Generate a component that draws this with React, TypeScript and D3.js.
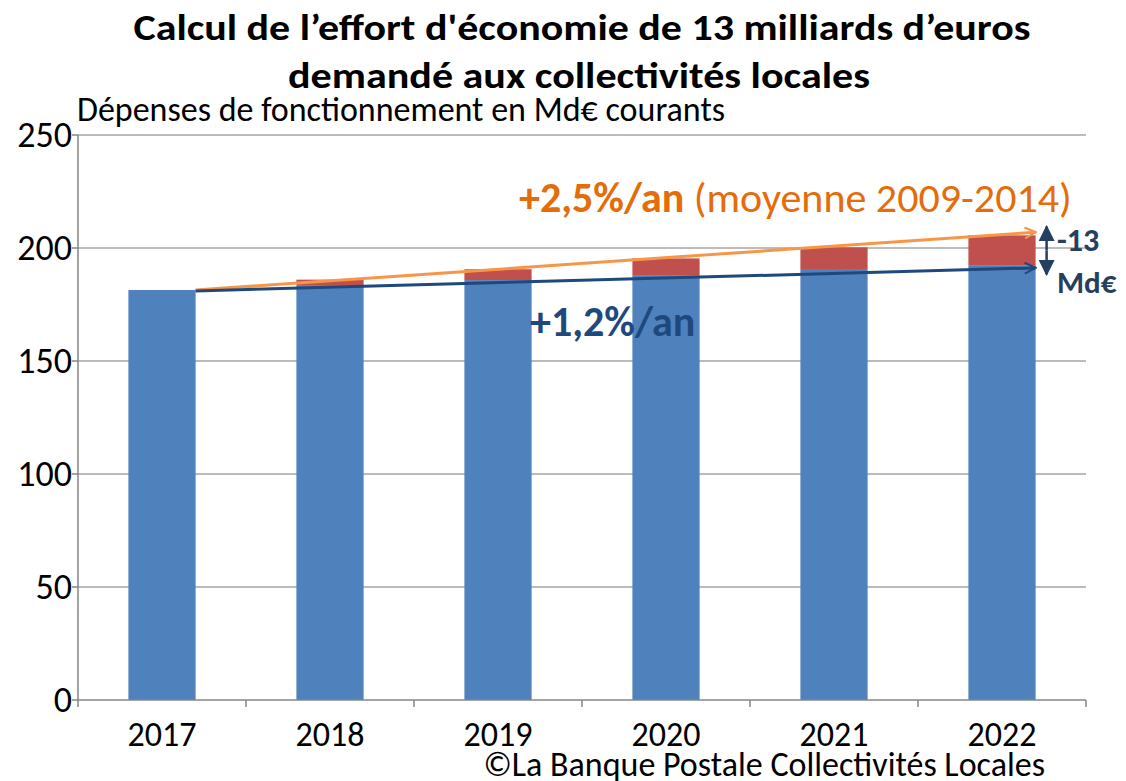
import * as d3 from 'd3';
import React from 'react';

// values (Md€)
const years = ['2017', '2018', '2019', '2020', '2021', '2022'];
const baseValues = [181.4, 183.6, 185.8, 188.0, 190.3, 192.4];
const extraValues = [0, 2.4, 4.8, 7.4, 10.0, 13.2];
const yTicks = [0, 50, 100, 150, 200, 250];
const trend25 = [181.4, 207.0];
const trend12 = [181.0, 191.2];
const gapArrow = [209.5, 188.3];

const W = 1126;
const H = 781;
const FONT = "Carlito, 'Open Sans', sans-serif";

export default function App() {
  const x = d3.scaleBand().domain(years).range([78, 1086]).paddingInner(0.6).paddingOuter(0.3);
  const y = d3.scaleLinear().domain([0, 250]).range([700, 135]);
  const bw = x.bandwidth();
  const step = x.step();
  const x0 = x(years[0]) + bw;
  const x1 = x(years[years.length - 1]) + bw;
  const arrowX = x1 + 11;

  return (
    <svg
      width={W}
      height={H}
      style={{ position: 'absolute', left: 0, top: 0, background: '#fff', fontFamily: FONT }}
    >
      <defs>
        <marker id="openO" viewBox="0 0 12 12" refX="11" refY="6" markerWidth="13" markerHeight="13" markerUnits="userSpaceOnUse" orient="auto">
          <path d="M1,1 L11,6 L1,11" fill="none" stroke="#f79646" strokeWidth="2" />
        </marker>
        <marker id="openB" viewBox="0 0 12 12" refX="11" refY="6" markerWidth="13" markerHeight="13" markerUnits="userSpaceOnUse" orient="auto">
          <path d="M1,1 L11,6 L1,11" fill="none" stroke="#1f497d" strokeWidth="2" />
        </marker>
        <marker id="solid" viewBox="0 0 10 10" refX="9" refY="5" markerWidth="16" markerHeight="16" markerUnits="userSpaceOnUse" orient="auto">
          <path d="M0,0 L10,5 L0,10 Z" fill="#243f60" />
        </marker>
      </defs>

      {/* title */}
      <text x={582} y={40} textAnchor="middle" fontSize={37} fontWeight="bold" fill="#000" textLength={897} lengthAdjust="spacingAndGlyphs">
        Calcul de l’effort d'économie de 13 milliards d’euros
      </text>
      <text x={579} y={88} textAnchor="middle" fontSize={37} fontWeight="bold" fill="#000" textLength={582} lengthAdjust="spacingAndGlyphs">
        demandé aux collectivités locales
      </text>
      <text x={77} y={121} fontSize={34} fill="#000">
        Dépenses de fonctionnement en Md€ courants
      </text>

      {/* gridlines + y axis */}
      {yTicks.map((t) => (
        <g key={t}>
          {t > 0 && <line x1={78} x2={1086} y1={y(t)} y2={y(t)} stroke="#a6a6a6" strokeWidth={1.5} />}
          <line x1={72} x2={78} y1={y(t)} y2={y(t)} stroke="#868686" strokeWidth={1.5} />
          <text x={72} y={y(t) + 11.5} textAnchor="end" fontSize={36} fill="#000">
            {t}
          </text>
        </g>
      ))}
      <line x1={78} x2={78} y1={y(250)} y2={y(0)} stroke="#868686" strokeWidth={1.5} />

      {/* bars */}
      {years.map((yr, i) => (
        <g key={yr}>
          <rect x={x(yr)} width={bw} y={y(baseValues[i])} height={y(0) - y(baseValues[i])} fill="#4f81bd" />
          {extraValues[i] > 0 && (
            <rect
              x={x(yr)}
              width={bw}
              y={y(baseValues[i] + extraValues[i])}
              height={y(baseValues[i]) - y(baseValues[i] + extraValues[i])}
              fill="#c0504d"
            />
          )}
        </g>
      ))}

      {/* x axis */}
      <line x1={78} x2={1086} y1={y(0)} y2={y(0)} stroke="#868686" strokeWidth={1.5} />
      {d3.range(years.length + 1).map((i) => (
        <line key={i} x1={78 + i * step} x2={78 + i * step} y1={y(0)} y2={y(0) + 7} stroke="#868686" strokeWidth={1.5} />
      ))}
      {years.map((yr) => (
        <text key={yr} x={x(yr) + bw / 2} y={746} textAnchor="middle" fontSize={34} fill="#000">
          {yr}
        </text>
      ))}

      {/* trend lines */}
      <line x1={x0} y1={y(trend25[0])} x2={x1} y2={y(trend25[1])} stroke="#f79646" strokeWidth={3} markerEnd="url(#openO)" />
      <line x1={x0} y1={y(trend12[0])} x2={x1} y2={y(trend12[1])} stroke="#1f497d" strokeWidth={3} markerEnd="url(#openB)" />

      {/* gap arrow */}
      <line x1={arrowX} x2={arrowX} y1={y((gapArrow[0] + gapArrow[1]) / 2)} y2={y(gapArrow[0])} stroke="#243f60" strokeWidth={2.5} markerEnd="url(#solid)" />
      <line x1={arrowX} x2={arrowX} y1={y((gapArrow[0] + gapArrow[1]) / 2)} y2={y(gapArrow[1])} stroke="#243f60" strokeWidth={2.5} markerEnd="url(#solid)" />
      <text x={1057} y={251} fontSize={32} fontWeight="bold" fill="#243f60">-13</text>
      <text x={1057} y={293} fontSize={31} fontWeight="bold" fill="#243f60">Md€</text>

      {/* annotations */}
      <text x={519} y={212} fontSize={42} fill="#e46c0a">
        <tspan fontWeight="bold">+2,5%/an</tspan>
        <tspan> (moyenne 2009-2014)</tspan>
      </text>
      <text x={530} y={336} fontSize={42} fontWeight="bold" fill="#1f497d">
        +1,2%/an
      </text>

      <text x={1045} y={776} textAnchor="end" fontSize={34} fill="#000">
        ©La Banque Postale Collectivités Locales
      </text>
    </svg>
  );
}
